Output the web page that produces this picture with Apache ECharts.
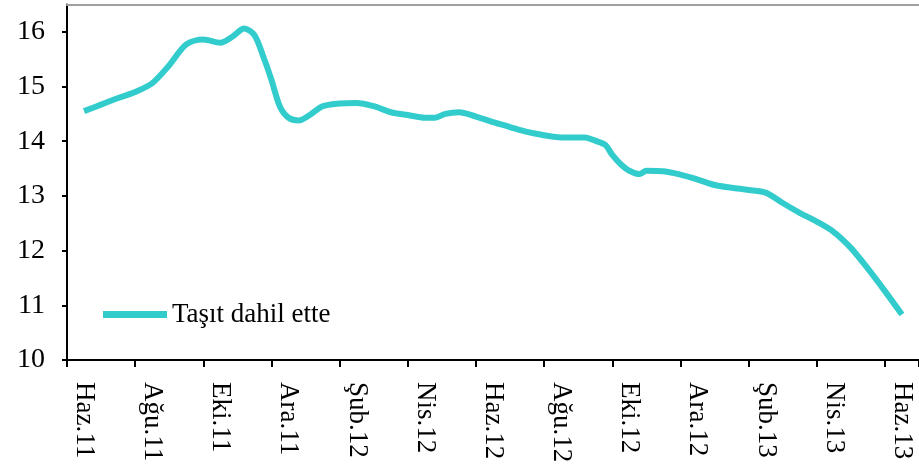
<!DOCTYPE html>
<html>
<head>
<meta charset="utf-8">
<script src="https://cdn.jsdelivr.net/npm/echarts@6/dist/echarts.min.js"></script>
<style>
  html, body { margin: 0; padding: 0; background: #fff; }
  #main { width: 919px; height: 466px; }
</style>
</head>
<body>
<div id="main"></div>
<script>
// month labels on the axis (every month is one category)
var months = ['Haz.11', 'Tem.11', 'Ağu.11', 'Eyl.11', 'Eki.11', 'Kas.11', 'Ara.11',
  'Oca.12', 'Şub.12', 'Mar.12', 'Nis.12', 'May.12', 'Haz.12', 'Tem.12', 'Ağu.12',
  'Eyl.12', 'Eki.12', 'Kas.12', 'Ara.12', 'Oca.13', 'Şub.13', 'Mar.13', 'Nis.13',
  'May.13', 'Haz.13'];

// position in months from Haz.11, and the value
var monthPos = [0, 0.5, 1, 1.5, 2, 2.5, 3, 3.5, 4, 4.35, 4.7, 5, 5.3, 5.5, 5.75, 6, 6.3,
  6.6, 7, 7.5, 8, 8.5, 9, 9.5, 10, 10.3, 10.6, 11, 11.5, 12, 12.5, 13, 13.5, 14, 14.7,
  15, 15.3, 15.5, 15.75, 16, 16.3, 16.5, 17, 17.5, 18, 18.5, 19, 19.5, 20, 20.5, 21,
  21.5, 22, 22.5, 23, 23.5, 24];
var tasitValues = [14.55, 14.67, 14.79, 14.9, 15.06, 15.39, 15.77, 15.86, 15.80, 15.91,
  16.06, 15.94, 15.48, 15.12, 14.63, 14.43, 14.38, 14.47, 14.64, 14.69, 14.70, 14.64,
  14.53, 14.48, 14.43, 14.43, 14.50, 14.53, 14.45, 14.35, 14.26, 14.17, 14.11, 14.07,
  14.07, 14.01, 13.93, 13.75, 13.58, 13.46, 13.40, 13.46, 13.45, 13.39, 13.30, 13.20,
  13.15, 13.11, 13.06, 12.87, 12.69, 12.53, 12.34, 12.05, 11.67, 11.26, 10.83];

var seriesName = 'Taşıt dahil ette';

var points = monthPos.map(function (t, i) { return [t, tasitValues[i]]; });

var chart = echarts.init(document.getElementById('main'), null, { renderer: 'canvas' });

var font = '"Liberation Serif", "Times New Roman", serif';

var option = {
  backgroundColor: '#ffffff',
  animation: false,
  grid: { left: 67, top: 4.5, right: -3, bottom: 106 },
  legend: {
    data: [seriesName],
    left: 98,
    top: 296,
    icon: 'rect',
    itemWidth: 64,
    itemHeight: 7,
    textStyle: { fontFamily: font, fontSize: 27, color: '#000' }
  },
  xAxis: [{
    type: 'category',
    data: months,
    boundaryGap: true,
    position: 'bottom',
    axisLine: { show: true, onZero: false, lineStyle: { color: '#000', width: 2 } },
    axisTick: { show: true, interval: 1, length: 7, lineStyle: { color: '#000', width: 2 } },
    axisLabel: {
      interval: 1,
      rotate: -90,
      margin: 22,
      fontFamily: font,
      fontSize: 27,
      color: '#000'
    },
    splitLine: { show: false }
  }, {
    // value axis used only to place the line between months
    type: 'value',
    position: 'top',
    min: -0.5,
    max: 24.5,
    axisLine: { show: true, onZero: false, lineStyle: { color: '#a0a0a0', width: 2 } },
    axisTick: { show: false },
    axisLabel: { show: false },
    splitLine: { show: false }
  }],
  yAxis: {
    type: 'value',
    min: 10,
    max: 16.5,
    interval: 1,
    axisLine: { show: true, onZero: false, lineStyle: { color: '#000', width: 2 } },
    axisTick: { show: true, length: 5, lineStyle: { color: '#000', width: 2 } },
    axisLabel: {
      margin: 22,
      fontFamily: font,
      fontSize: 28,
      color: '#000',
      showMaxLabel: false
    },
    splitLine: { show: false }
  },
  series: [{
    name: seriesName,
    type: 'line',
    xAxisIndex: 1,
    data: points,
    smooth: 0.3,
    showSymbol: false,
    symbol: 'none',
    lineStyle: { color: '#33CCCC', width: 6 },
    itemStyle: { color: '#33CCCC' }
  }]
};

chart.setOption(option);
</script>
</body>
</html>
